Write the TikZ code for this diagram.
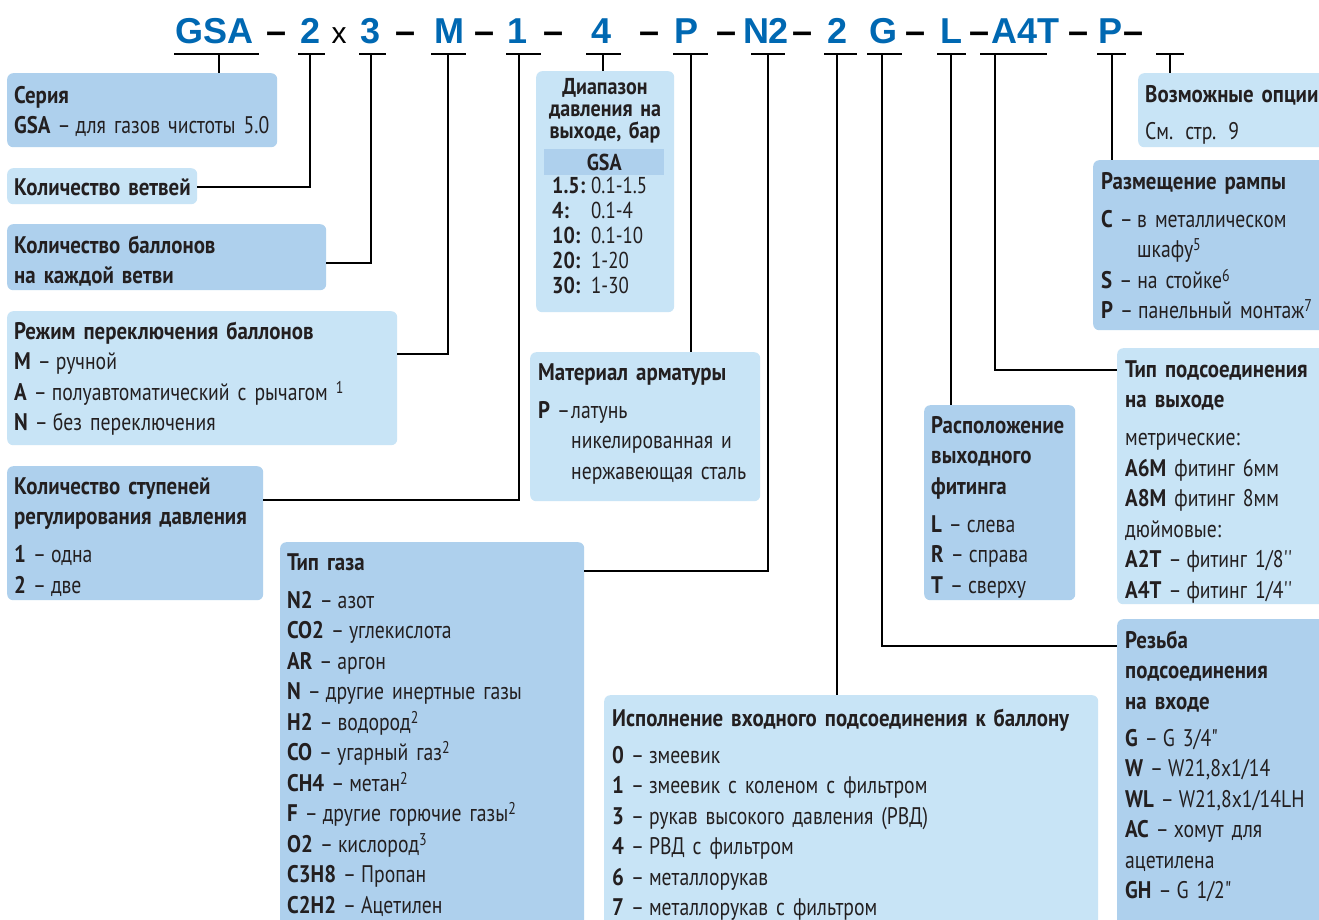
\documentclass[tikz,border=0pt]{standalone}
\usepackage{fontspec}
\newfontfamily\bodyfont{PT Sans}[FakeStretch=0.82, BoldFeatures={FakeStretch=0.87}]
\newfontfamily\codefont{Liberation Sans}
\usetikzlibrary{positioning}
\definecolor{codeblue}{RGB}{0,104,178}
\definecolor{boxdark}{RGB}{174,208,237}
\definecolor{boxlight}{RGB}{200,228,246}
\definecolor{ink}{RGB}{35,31,32}
\newcommand{\upnum}[1]{\raisebox{7pt}{\fontsize{17}{17}\selectfont #1}}
\newcommand{\dd}{\kern-1pt–\kern-3pt}
\newcommand{\bodysize}{\fontsize{24}{30.5}\selectfont\spaceskip=4.6pt plus 1pt\relax}

\begin{document}
\begin{tikzpicture}[x=1pt, y=-1pt]
    % Styles
    \tikzset{
        code/.style={font=\codefont\bfseries\fontsize{36}{36}\selectfont, text=codeblue, anchor=base, inner sep=0pt},
        sep/.style={font=\codefont\bfseries\fontsize{36}{36}\selectfont, text=black, anchor=base, inner sep=0pt},
        bar/.style={line width=2pt},
        link/.style={line width=2pt},
        panel/.style={rounded corners=6pt, anchor=north west, inner sep=0pt},
        darkpanel/.style={panel, fill=boxdark},
        lightpanel/.style={panel, fill=boxlight},
        txt/.style={anchor=base west, inner sep=0pt, text width=460pt, align=left, text=ink, font=\bodyfont\bodysize}
    }

    % Page
    \fill[white] (0,0) rectangle (1319,919);
    \useasboundingbox (0,0) rectangle (1319,919);

    % Order code
    \foreach \cx/\code/\nm in {214.5/GSA/cSeries, 310.5/2/cBranch, 371/3/cCyl, 449/M/cMode, 518/1/cStage,
        602/4/cRange, 686/P/cMat, 766/N2/cGas, 837/2/cInlet, 883/G/cThread, 951/L/cPos, 1025/A4T/cOut, 1110/P/cMount}
        \node[code] (\nm) at (\cx,43) {\code};
    \foreach \cx [count=\i] in {276.5,406,485,554,650,727,802,915,979,1078,1133}
        \node[sep] (dash\i) at (\cx,43) {–};
    \node[sep, font=\codefont\fontsize{30}{30}\selectfont] (times) at (339,43) {x};

    % Bars and stems
    \foreach \a/\b/\s/\nm in {174/259/219/sSeries, 298/325/310/sBranch, 359/386/371/sCyl, 431/466/448/sMode,
        506/541/519/sStage, 586/621/603/sRange, 673/708/691/sMat, 751/785/768/sGas, 824/857/837/sInlet,
        867/902/882/sThread, 937/966/951/sPos, 980/1047/995/sOut, 1097/1126/1112/sMount, 1156/1184/1170/sOpt}
    {
        \draw[bar] (\a,54) -- (\b,54);
        \coordinate (\nm) at (\s,54);
    }

    % Panels
    \node[darkpanel, minimum width=270pt, minimum height=74pt] (series) at (7,73) {};
    \node[lightpanel, minimum width=190pt, minimum height=36pt] (branch) at (7,168) {};
    \node[darkpanel, minimum width=319pt, minimum height=66pt] (cyl) at (7,224) {};
    \node[lightpanel, minimum width=390pt, minimum height=134pt] (mode) at (7,311) {};
    \node[darkpanel, minimum width=256pt, minimum height=134pt] (stage) at (7,466) {};
    \node[darkpanel, minimum width=304pt, minimum height=393pt] (gas) at (280,542) {};
    \node[lightpanel, minimum width=138pt, minimum height=241pt] (range) at (536,71) {};
    \node[lightpanel, minimum width=230pt, minimum height=149pt] (mat) at (530,352) {};
    \node[lightpanel, minimum width=494pt, minimum height=240pt] (inlet) at (604,695) {};
    \node[darkpanel, minimum width=151pt, minimum height=195pt] (pos) at (924,405) {};
    \node[lightpanel, minimum width=213pt, minimum height=256pt] (outlet) at (1117,348) {};
    \node[darkpanel, minimum width=213pt, minimum height=316pt] (thread) at (1117,619) {};
    \node[darkpanel, minimum width=237pt, minimum height=170pt] (mount) at (1093,160) {};
    \node[lightpanel, minimum width=192pt, minimum height=74pt] (opt) at (1138,73) {};

    % Panel texts
    \node[txt] (seriesT) at ([xshift=7pt,yshift=-30pt]series.north west)
        {\textbf{Серия}\\\textbf{GSA} \dd{} для газов чистоты 5.0};
    \node[txt] (branchT) at ([xshift=7pt,yshift=-27pt]branch.north west)
        {\textbf{Количество ветвей}};
    \node[txt] (cylT) at ([xshift=7pt,yshift=-29pt]cyl.north west)
        {\textbf{Количество баллонов}\\\textbf{на каждой ветви}};
    \node[txt] (modeT) at ([xshift=7pt,yshift=-28pt]mode.north west)
        {\textbf{Режим переключения баллонов}\\\textbf{M} \dd{} ручной\\\textbf{A} \dd{} полуавтоматический с рычагом \upnum{1}\\\textbf{N} \dd{} без переключения};
    \node[txt] (stageT) at ([xshift=7pt,yshift=-28pt]stage.north west)
        {\textbf{Количество ступеней}\\\textbf{регулирования давления}\\[7.5pt]\textbf{1} \dd{} одна\\\textbf{2} \dd{} две};
    \node[txt] (gasT) at ([xshift=7pt,yshift=-28pt]gas.north west)
        {\textbf{Тип газа}\\[7.5pt]\textbf{N2} \dd{} азот\\\textbf{CO2} \dd{} углекислота\\\textbf{AR} \dd{} аргон\\\textbf{N} \dd{} другие инертные газы\\\textbf{H2} \dd{} водород\upnum{2}\\\textbf{CO} \dd{} угарный газ\upnum{2}\\\textbf{CH4} \dd{} метан\upnum{2}\\\textbf{F} \dd{} другие горючие газы\upnum{2}\\\textbf{O2} \dd{} кислород\upnum{3}\\\textbf{C3H8} \dd{} Пропан\\\textbf{C2H2} \dd{} Ацетилен};
    \node[txt] (matT) at ([xshift=8pt,yshift=-28pt]mat.north west)
        {\textbf{Материал арматуры}\\[7.5pt]\makebox[33pt][l]{\textbf{P} \dd{}}латунь\\\hspace*{33pt}никелированная и\\\hspace*{33pt}нержавеющая сталь};
    \node[txt] (inletT) at ([xshift=8pt,yshift=-31pt]inlet.north west)
        {\textbf{Исполнение входного подсоединения к баллону}\\[6.5pt]\textbf{0} \dd{} змеевик\\\textbf{1} \dd{} змеевик с коленом с фильтром\\\textbf{3} \dd{} рукав высокого давления (РВД)\\\textbf{4} \dd{} РВД с фильтром\\\textbf{6} \dd{} металлорукав\\\textbf{7} \dd{} металлорукав с фильтром};
    \node[txt] (posT) at ([xshift=7pt,yshift=-28pt]pos.north west)
        {\textbf{Расположение}\\\textbf{выходного}\\\textbf{фитинга}\\[7.5pt]\textbf{L} \dd{} слева\\\textbf{R} \dd{} справа\\\textbf{T} \dd{} сверху};
    \node[txt] (outletT) at ([xshift=8pt,yshift=-29pt]outlet.north west)
        {\textbf{Тип подсоединения}\\\textbf{на выходе}\\[7.5pt]метрические:\\\textbf{A6M} фитинг 6мм\\\textbf{A8M} фитинг 8мм\\дюймовые:\\\textbf{A2T} \dd{} фитинг 1/8''\\\textbf{A4T} \dd{} фитинг 1/4''};
    \node[txt] (threadT) at ([xshift=8pt,yshift=-29pt]thread.north west)
        {\textbf{Резьба}\\\textbf{подсоединения}\\\textbf{на входе}\\[6.5pt]\textbf{G} \dd{} G 3/4"\\\textbf{W} \dd{} W21,8x1/14\\\textbf{WL} \dd{} W21,8x1/14LH\\\textbf{AC} \dd{} хомут для\\ацетилена\\\textbf{GH} \dd{} G 1/2"};
    \node[txt] (mountT) at ([xshift=8pt,yshift=-29pt]mount.north west)
        {\textbf{Размещение рампы}\\[7.5pt]\makebox[36pt][l]{\textbf{C} \dd{}}в металлическом\\\hspace*{36pt}шкафу\upnum{5}\\\textbf{S} \dd{} на стойке\upnum{6}\\\textbf{P} \dd{} панельный монтаж\upnum{7}};
    \node[txt] (optT) at ([xshift=7pt,yshift=-29pt]opt.north west)
        {\textbf{Возможные опции}\\[6.5pt]См. стр. 9};

    % Pressure range panel
    \node[anchor=base, inner sep=0pt, text width=136pt, align=center, text=ink,
        font=\bodyfont\bfseries\fontsize{23}{22}\selectfont] (rangeT) at (605,94)
        {Диапазон\\давления на\\выходе, бар};
    \node[anchor=north west, inner sep=0pt, fill=boxdark, minimum width=120pt, minimum height=26pt,
        text=ink, font=\bodyfont\bfseries\fontsize{23}{23}\selectfont] (band) at (544,149) {GSA};
    \node[txt, font=\bodyfont\fontsize{23}{25.2}\selectfont] (rangeV) at (552,193)
        {\makebox[39pt][l]{\textbf{1.5:}}0.1-1.5\\\makebox[39pt][l]{\textbf{4:}}0.1-4\\\makebox[39pt][l]{\textbf{10:}}0.1-10\\\makebox[39pt][l]{\textbf{20:}}1-20\\\makebox[39pt][l]{\textbf{30:}}1-30};

    % Connectors
    \draw[link] (sSeries) -- (sSeries |- series.north);
    \draw[link] (sBranch) |- ([yshift=-19pt]branch.north east);
    \draw[link] (sCyl) |- ([yshift=-39pt]cyl.north east);
    \draw[link] (sMode) |- ([yshift=-43pt]mode.north east);
    \draw[link] (sStage) |- ([yshift=-34pt]stage.north east);
    \draw[link] (sRange) -- (sRange |- range.north);
    \draw[link] (sMat) -- (sMat |- mat.north);
    \draw[link] (sGas) |- ([yshift=-29pt]gas.north east);
    \draw[link] (sInlet) -- (sInlet |- inlet.north);
    \draw[link] (sThread) |- ([yshift=-27pt]thread.north west);
    \draw[link] (sPos) -- (sPos |- pos.north);
    \draw[link] (sOut) |- ([yshift=-22pt]outlet.north west);
    \draw[link] (sMount) -- (sMount |- mount.north);
    \draw[link] (sOpt) -- (sOpt |- opt.north);

\end{tikzpicture}
\end{document}
